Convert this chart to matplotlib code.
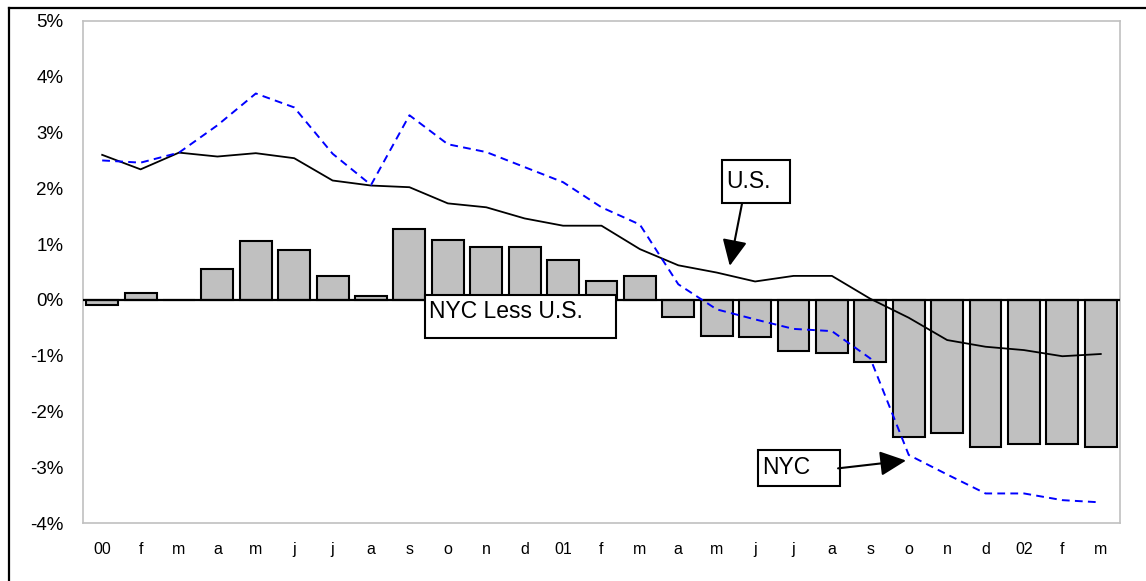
import matplotlib
matplotlib.use("Agg")
import matplotlib.pyplot as plt
from matplotlib.lines import Line2D
from matplotlib.patches import Rectangle
from matplotlib.ticker import FuncFormatter

plt.rcParams['font.family'] = ['Liberation Sans', 'DejaVu Sans']

# data (percent)
months = ['00', 'f', 'm', 'a', 'm', 'j', 'j', 'a', 's', 'o', 'n', 'd',
          '01', 'f', 'm', 'a', 'm', 'j', 'j', 'a', 's', 'o', 'n', 'd',
          '02', 'f', 'm']
nyc_less_us = [-0.10, 0.13, 0.0, 0.56, 1.05, 0.89, 0.43, 0.07, 1.27, 1.07, 0.94, 0.94,
               0.72, 0.33, 0.42, -0.31, -0.64, -0.67, -0.92, -0.96, -1.12, -2.45, -2.39, -2.64,
               -2.59, -2.59, -2.64]
us = [2.60, 2.34, 2.64, 2.57, 2.63, 2.54, 2.14, 2.05, 2.02, 1.73, 1.66, 1.46,
      1.33, 1.33, 0.91, 0.62, 0.49, 0.33, 0.43, 0.43, 0.02, -0.32, -0.72, -0.84,
      -0.90, -1.01, -0.97]
nyc = [2.50, 2.46, 2.64, 3.13, 3.70, 3.45, 2.62, 2.06, 3.31, 2.79, 2.65, 2.38,
       2.11, 1.66, 1.35, 0.28, -0.17, -0.35, -0.52, -0.56, -1.05, -2.78, -3.13, -3.47,
       -3.47, -3.59, -3.63]
yticks = [-4, -3, -2, -1, 0, 1, 2, 3, 4, 5]

x = list(range(len(months)))

fig = plt.figure(figsize=(11.46, 5.81), dpi=100)
ax = fig.add_axes([0.0724, 0.0998, 0.9049, 0.8641])

ax.bar(x, nyc_less_us, width=0.83, color='#c0c0c0', edgecolor='black', linewidth=1.5, zorder=2)
ax.axhline(0, color='black', linewidth=1.6, zorder=3)
ax.plot(x, us, color='black', linewidth=1.3, zorder=4)
ax.plot(x, nyc, color='#0000ff', linewidth=1.4, dashes=(4, 2.7), zorder=4)

ax.set_xlim(-0.5, len(months) - 0.5)
ax.set_ylim(-4, 5)
ax.set_xticks(x)
ax.set_xticklabels(months)
ax.set_yticks(yticks)
ax.yaxis.set_major_formatter(FuncFormatter(lambda v, p: '%d%%' % v))
ax.tick_params(axis='y', length=0, pad=14, labelsize=13.5)
ax.tick_params(axis='x', length=0, pad=14, labelsize=11.5)
for s in ax.spines.values():
    s.set_color('#c0c0c0')
    s.set_linewidth(1.2)

# label boxes
def label_box(x0, x1, y0, y1, tx, ty, txt):
    ax.add_patch(Rectangle((x0, y0), x1 - x0, y1 - y0, facecolor='white',
                           edgecolor='black', linewidth=1.5, zorder=6))
    ax.text(tx, ty, txt, fontsize=16.5, ha='left', va='center', zorder=7)

label_box(16.14, 17.91, 1.73, 2.50, 16.24, 2.12, 'U.S.')
label_box(8.40, 13.38, -0.68, 0.09, 8.51, -0.21, 'NYC Less U.S.')
label_box(17.08, 19.22, -3.33, -2.69, 17.18, -3.0, 'NYC')

arrow = dict(arrowstyle='-|>,head_length=0.4,head_width=0.19', color='black', lw=1.5,
             mutation_scale=40, shrinkA=0, shrinkB=0)
ax.annotate('', xy=(16.34, 0.61), xytext=(16.66, 1.73), arrowprops=arrow, zorder=6)
ax.annotate('', xy=(20.93, -2.88), xytext=(19.16, -3.02), arrowprops=arrow, zorder=6)

# outer frame
fig.add_artist(Line2D([9 / 1146, 9 / 1146], [0, 1 - 8 / 581], color='black', lw=1.6))
fig.add_artist(Line2D([9 / 1146, 1], [1 - 8 / 581, 1 - 8 / 581], color='black', lw=1.6))

fig.savefig('out.png', dpi=100)
